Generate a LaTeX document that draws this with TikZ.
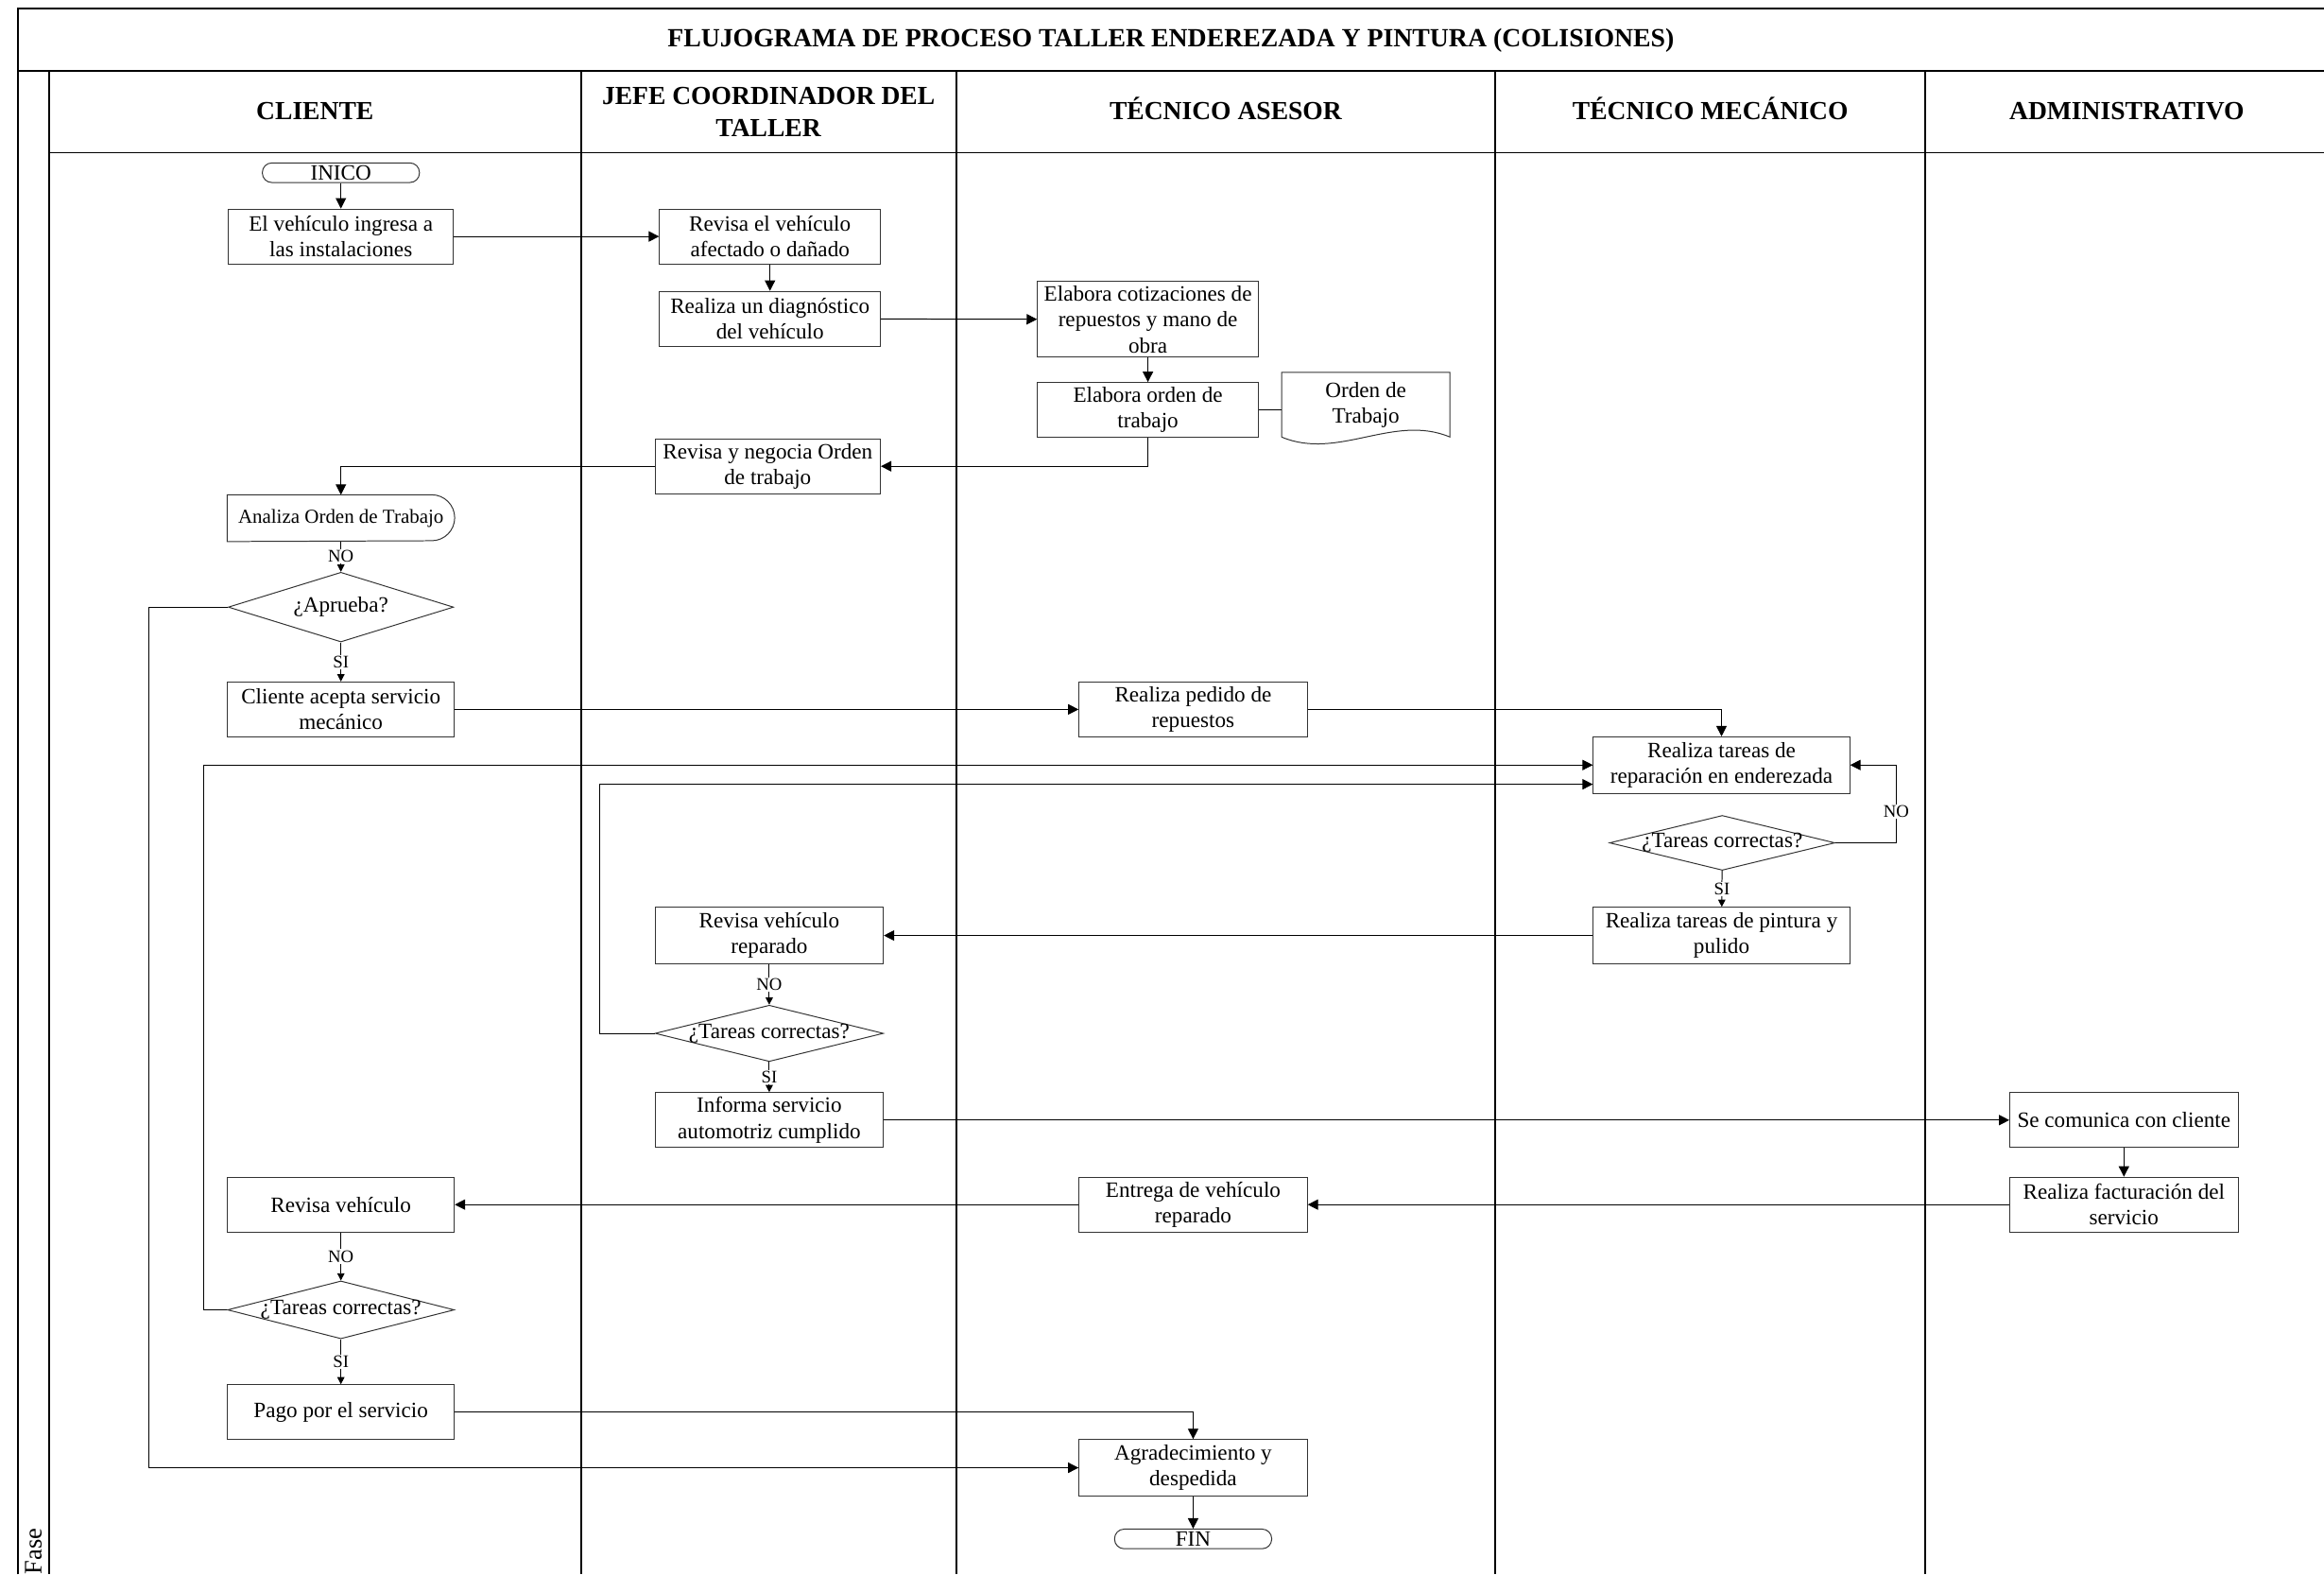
\documentclass[tikz,border=0pt]{standalone}
\usepackage{fontspec}
\setmainfont{Liberation Serif}
\usetikzlibrary{shapes.geometric, arrows.meta, calc}

\newcommand{\nowidth}[1]{\makebox[0pt]{#1}}

\begin{document}
\begin{tikzpicture}[
		x=0.25mm, y=-0.25mm,
		font=\fontsize{10.5}{12.4}\selectfont,
		% Styles
		frameLine/.style={line width=0.9pt},
		laneLine/.style={line width=0.9pt},
		headLine/.style={line width=0.7pt},
		titleText/.style={font=\fontsize{12.6}{15}\selectfont\bfseries, align=center},
		headText/.style={font=\fontsize{12.5}{15.5}\selectfont\bfseries, align=center},
		oneLineHead/.style={headText, anchor=base},
		procBox/.style={draw=black!80, line width=0.45pt, minimum width=38mm, minimum height=9.25mm, inner sep=1pt, align=center},
		termBox/.style={draw=black!80, line width=0.45pt, rounded corners=1.6mm, minimum width=26.5mm, minimum height=3.3mm, inner sep=0pt},
		decisionBox/.style={draw=black!80, line width=0.45pt, diamond, minimum width=38mm, minimum height=#1, inner sep=0pt},
		decisionBox/.default=9.5mm,
		shapeLine/.style={draw=black!80, line width=0.45pt},
		flowArrow/.style={-{Triangle[length=5pt, width=5pt]}, line width=0.45pt},
		shortArrow/.style={-{Triangle[length=3.5pt, width=3.5pt]}, line width=0.45pt},
		tagLabel/.style={fill=white, inner sep=0.6pt, font=\fontsize{8.5}{9}\selectfont}
		]
		\useasboundingbox (0,0) rectangle (1568,1062);
		
		% =========================================================
		% 1. FRAME, TITLE AND LANES
		% =========================================================
		\draw[frameLine] (12, 1062) -- (12, 6) -- (1568, 6);
		\draw[frameLine] (12, 48) -- (1568, 48);
		\draw[laneLine] (33, 48) -- (33, 1062);
		\foreach \lx in {392, 645, 1009, 1299}
			\draw[laneLine] (\lx, 48) -- (\lx, 1062);
		\draw[headLine] (33, 103) -- (1568, 103);
		
		\node[titleText] (Title) at (790, 27) {FLUJOGRAMA DE PROCESO TALLER ENDEREZADA Y PINTURA (COLISIONES)};
		\node[oneLineHead] (HeadCliente) at (212.5, 80.5) {CLIENTE};
		\node[headText] (HeadJefe) at (518.5, 75.5) {JEFE COORDINADOR DEL\\TALLER};
		\node[oneLineHead] (HeadAsesor) at (827, 80.5) {TÉCNICO ASESOR};
		\node[oneLineHead] (HeadMecanico) at (1154, 80.5) {TÉCNICO MECÁNICO};
		\node[oneLineHead] (HeadAdmin) at (1435, 80.5) {ADMINISTRATIVO};
		\node[rotate=90, anchor=base west, inner sep=0pt, font=\fontsize{12}{14}\selectfont] (FaseLabel) at (28, 1062) {Fase};
		
		% =========================================================
		% 2. PROCESS STEPS
		% =========================================================
		% Cliente
		\node[termBox] (Inicio) at (230, 116.5) {INICO};
		\node[procBox] (Ingresa) at (230, 159.5) {El vehículo ingresa a\\las instalaciones};
		\node[minimum width=38.25mm, minimum height=7.75mm, inner sep=0pt, font=\fontsize{9.5}{11}\selectfont] (Analiza) at (230, 349.5) {Analiza Orden de Trabajo};
		\node[decisionBox=11.75mm] (Aprueba) at (230, 409.5) {\nowidth{¿Aprueba?}};
		\node[procBox, minimum width=38.25mm] (Acepta) at (230, 478.5) {Cliente acepta servicio\\mecánico};
		\node[procBox, minimum width=38.25mm] (RevisaCliente) at (230, 812.5) {Revisa vehículo};
		\node[decisionBox=9.75mm, minimum width=38.25mm] (CheckCliente) at (230, 883.5) {\nowidth{¿Tareas correctas?}};
		\node[procBox, minimum width=38.25mm] (Pago) at (230, 952.5) {Pago por el servicio};
		
		% Jefe coordinador
		\node[procBox, minimum width=37.25mm] (RevisaAfectado) at (519.5, 159.5) {Revisa el vehículo\\afectado o dañado};
		\node[procBox, minimum width=37.25mm] (Diagnostico) at (519.5, 215) {Realiza un diagnóstico\\del vehículo};
		\node[procBox] (Negocia) at (518, 314.5) {Revisa y negocia Orden\\de trabajo};
		\node[procBox, minimum width=38.5mm, minimum height=9.5mm] (RevisaReparado) at (519, 631) {Revisa vehículo\\reparado};
		\node[decisionBox=9.5mm, minimum width=38.5mm] (CheckJefe) at (519, 697) {\nowidth{¿Tareas correctas?}};
		\node[procBox, minimum width=38.5mm] (Informa) at (519, 755.5) {Informa servicio\\automotriz cumplido};
		
		% Tecnico asesor
		\node[procBox, minimum width=37.25mm, minimum height=12.75mm] (Cotiza) at (774.5, 215.5) {Elabora cotizaciones de\\repuestos y mano de\\obra};
		\node[procBox, minimum width=37.25mm] (ElaboraOrden) at (774.5, 276.5) {Elabora orden de\\trabajo};
		\node[minimum width=28.25mm, minimum height=10.75mm, inner sep=0pt, align=center] (OrdenDoc) at (921.5, 273) {Orden de\\Trabajo};
		\node[procBox, minimum width=38.5mm] (Pedido) at (805, 478.5) {Realiza pedido de\\repuestos};
		\node[procBox, minimum width=38.5mm] (Entrega) at (805, 812.5) {Entrega de vehículo\\reparado};
		\node[procBox, minimum width=38.5mm, minimum height=9.5mm] (Agradece) at (805, 990) {Agradecimiento y\\despedida};
		\node[termBox] (Fin) at (805, 1038) {FIN};
		
		% Tecnico mecanico
		\node[procBox, minimum width=43.25mm, minimum height=9.5mm] (Enderezada) at (1161.5, 516) {Realiza tareas de\\reparación en enderezada};
		\node[decisionBox=9.25mm] (CheckMec) at (1162, 568.5) {\nowidth{¿Tareas correctas?}};
		\node[procBox, minimum width=43.25mm, minimum height=9.5mm] (Pintura) at (1161.5, 631) {Realiza tareas de pintura y\\pulido};
		
		% Administrativo
		\node[procBox, minimum width=38.5mm] (Comunica) at (1433, 755.5) {Se comunica con cliente};
		\node[procBox, minimum width=38.5mm] (Factura) at (1433, 812.5) {Realiza facturación del\\servicio};
		
		% Outlines of the special shapes
		\draw[shapeLine] (Analiza.south west) -- (Analiza.north west) -- ($(Analiza.north east)+(-15.5,0)$) arc[start angle=90, end angle=-90, radius=3.875mm] -- cycle;
		\draw[shapeLine] (OrdenDoc.south west) -- (OrdenDoc.north west) -- (OrdenDoc.north east) -- (OrdenDoc.south east)
			.. controls ($(OrdenDoc.south east)+(-38,-16)$) and ($(OrdenDoc.south west)+(38,16)$) .. (OrdenDoc.south west);
		
		% =========================================================
		% 3. CONNECTORS
		% =========================================================
		\draw[flowArrow] (Inicio) -- (Ingresa);
		\draw[flowArrow] (Ingresa) -- (RevisaAfectado);
		\draw[flowArrow] (RevisaAfectado) -- (Diagnostico);
		\draw[flowArrow] (Diagnostico) -- (Cotiza);
		\draw[flowArrow] (Cotiza) -- (ElaboraOrden);
		\draw[line width=0.45pt] (ElaboraOrden.east) -- (ElaboraOrden.east -| OrdenDoc.west);
		\draw[flowArrow] (ElaboraOrden.south) |- (Negocia.east);
		\draw[flowArrow] (Negocia.west) -| (Analiza.north);
		\draw[shortArrow] (Analiza) -- node[tagLabel] {NO} (Aprueba);
		\draw[shortArrow] (Aprueba) -- node[tagLabel] {SI} (Acepta);
		\draw[flowArrow] (Aprueba.west) -- ++(-53,0) |- (Agradece.west);
		\draw[flowArrow] (Acepta) -- (Pedido);
		\draw[flowArrow] (Pedido.east) -| (Enderezada.north);
		\draw[flowArrow] (CheckMec.east) -- ++(41,0) |- node[tagLabel, pos=0.2] {NO} (Enderezada.east);
		\draw[shortArrow] (CheckMec) -- node[tagLabel] {SI} (Pintura);
		\draw[flowArrow] (Pintura) -- (RevisaReparado);
		\draw[shortArrow] (RevisaReparado) -- node[tagLabel] {NO} (CheckJefe);
		\draw[shortArrow] (CheckJefe) -- node[tagLabel] {SI} (Informa);
		\draw[flowArrow] (CheckJefe.west) -- ++(-37,0) |- ($(Enderezada.west)+(0,13)$);
		\draw[flowArrow] (Informa) -- (Comunica);
		\draw[flowArrow] (Comunica) -- (Factura);
		\draw[flowArrow] (Factura) -- (Entrega);
		\draw[flowArrow] (Entrega) -- (RevisaCliente);
		\draw[shortArrow] (RevisaCliente) -- node[tagLabel] {NO} (CheckCliente);
		\draw[shortArrow] (CheckCliente) -- node[tagLabel] {SI} (Pago);
		\draw[flowArrow] (CheckCliente.west) -- ++(-16,0) |- (Enderezada.west);
		\draw[flowArrow] (Pago.east) -| (Agradece.north);
		\draw[flowArrow] (Agradece) -- (Fin);
		
	\end{tikzpicture}
\end{document}
